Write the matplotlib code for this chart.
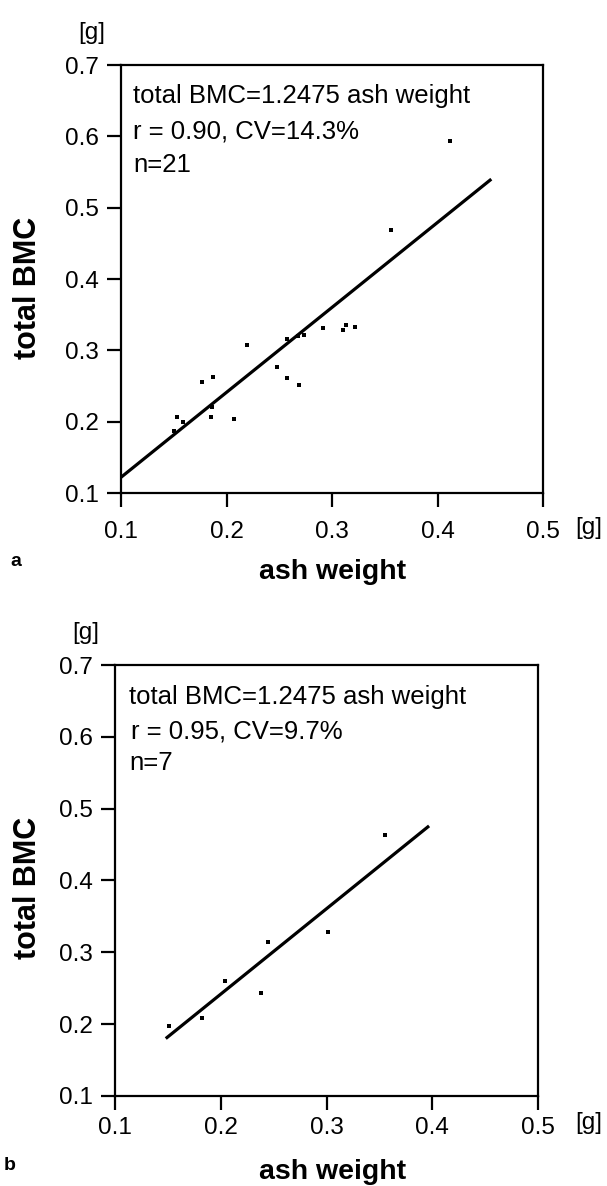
import matplotlib
matplotlib.use("Agg")
import matplotlib.pyplot as plt

plt.rcParams['font.family'] = ['Liberation Sans', 'DejaVu Sans']

# panel a: ash weight vs total BMC (n=21)
ash_a = [0.412, 0.356, 0.219, 0.177, 0.187, 0.153, 0.159, 0.150, 0.185, 0.186, 0.207,
         0.248, 0.257, 0.269, 0.257, 0.268, 0.273, 0.291, 0.310, 0.313, 0.322]
bmc_a = [0.594, 0.468, 0.308, 0.256, 0.262, 0.206, 0.199, 0.187, 0.206, 0.221, 0.204,
         0.276, 0.261, 0.252, 0.316, 0.320, 0.321, 0.332, 0.328, 0.335, 0.333]
fit_a_x = [0.100, 0.451]
fit_a_y = [0.122, 0.540]
lines_a = ["total BMC=1.2475 ash weight", "r = 0.90, CV=14.3%", "n=21"]

# panel b: (n=7)
ash_b = [0.151, 0.182, 0.204, 0.238, 0.245, 0.301, 0.355]
bmc_b = [0.197, 0.209, 0.260, 0.244, 0.314, 0.329, 0.464]
fit_b_x = [0.148, 0.397]
fit_b_y = [0.180, 0.476]
lines_b = ["total BMC=1.2475 ash weight", "r = 0.95, CV=9.7%", "n=7"]

xticks = [0.1, 0.2, 0.3, 0.4, 0.5]
yticks = [0.1, 0.2, 0.3, 0.4, 0.5, 0.6, 0.7]

W, H = 607, 1186
fig = plt.figure(figsize=(W / 100, H / 100), dpi=100)


def ftext(x, y, s, **kw):
    # place text using pixel coords from the top-left
    return fig.text(x / W, 1 - y / H, s, **kw)


def panel(rect, xs, ys, fx, fy, txt, letter, base, xpad, ylab_y, xlab_y, letter_pos):
    l, t, r, b = rect
    ax = fig.add_axes([l / W, 1 - b / H, (r - l) / W, (b - t) / H])
    ax.scatter(xs, ys, marker='s', s=10, color='black', zorder=3, linewidths=0)
    ax.plot(fx, fy, color='black', lw=2.3, solid_capstyle='butt')
    ax.set_xlim(0.1, 0.5)
    ax.set_ylim(0.1, 0.7)
    ax.set_xticks(xticks)
    ax.set_yticks(yticks)
    ax.set_xticklabels([f"{v:.1f}" for v in xticks])
    ax.set_yticklabels([f"{v:.1f}" for v in yticks])
    ax.tick_params(direction='out', length=10, width=1.6, labelsize=17.5)
    ax.tick_params(axis='x', pad=xpad)
    ax.tick_params(axis='y', pad=6)
    for s in ax.spines.values():
        s.set_linewidth(1.6)
    # axis titles
    ftext(28, ylab_y, "total BMC", fontsize=22, fontweight='bold', rotation=90,
          ha='center', va='center')
    ftext(333, xlab_y, "ash weight", fontsize=20.5, fontweight='bold',
          ha='center', va='center')
    # texts inside the box
    for i, s in enumerate(txt):
        ftext(base[i][0], base[i][1], s, fontsize=18.5, va='baseline', ha='left')
    # units and panel letter
    ftext(l - 29, t - 32, "[g]", fontsize=17.5, ha='center', va='center')
    ftext(589, b + 35 if xpad > 8 else b + 27, "[g]", fontsize=17.5, ha='center', va='center')
    ftext(letter_pos[0], letter_pos[1], letter, fontsize=14, fontweight='bold',
          ha='center', va='center')
    return ax


panel((121, 65, 543, 493), ash_a, bmc_a, fit_a_x, fit_a_y, lines_a, "a",
      [(133, 103), (133, 138), (133, 172)], 10, 288, 572, (16, 561))
panel((115, 665, 538, 1096), ash_b, bmc_b, fit_b_x, fit_b_y, lines_b, "b",
      [(129, 704), (131, 739), (129, 770)], 5, 888, 1172, (10, 1166))

fig.savefig("out.png", dpi=100)
